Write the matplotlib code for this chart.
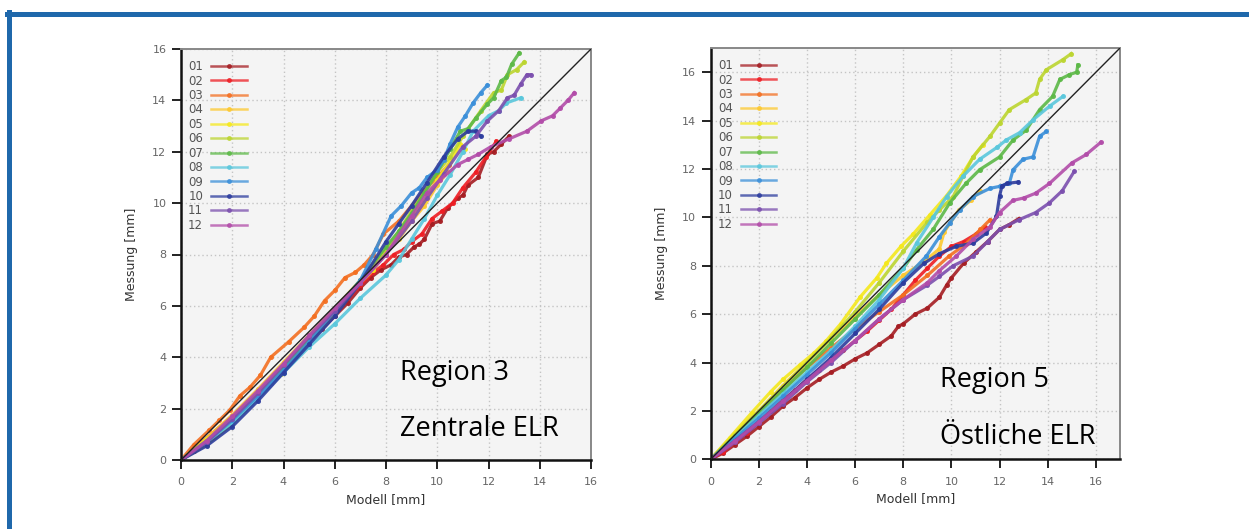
import matplotlib
matplotlib.use("Agg")
import matplotlib.pyplot as plt
from matplotlib.lines import Line2D

labels = ["01", "02", "03", "04", "05", "06", "07", "08", "09", "10", "11", "12"]
colors = ["#a51d22", "#ee1d23", "#f36f21", "#fdc82f", "#f4e81c", "#bcd530",
          "#5cb947", "#5ac7dc", "#3b8fd9", "#2c3c9e", "#7b4fae", "#b24ca9"]

# Region 3 - Zentrale ELR
r3_x = [
    [0, 0.5, 1, 1.5, 2, 2.5, 3, 3.5, 4, 4.5, 5, 5.5, 6, 6.5, 7, 7.4, 7.8, 8.2, 8.5, 8.8,
     9.1, 9.3, 9.5, 9.8, 10.1, 10.4, 10.8, 11.0, 11.2, 11.6, 11.96, 12.2, 12.5, 12.8],
    [0, 1, 2, 3, 4, 5, 6, 7, 7.5, 7.9, 8.3, 8.7, 9.0, 9.4, 9.8, 10.2, 10.6, 11.0, 11.5, 11.9, 12.3],
    [0, 0.5, 1.1, 1.5, 1.9, 2.3, 2.7, 3.1, 3.5, 4.2, 4.8, 5.2, 5.6, 6.0, 6.4, 6.8, 7.15, 7.5, 7.9, 8.5, 9.0, 9.5, 10.0, 10.45],
    [0, 1, 2, 3, 4, 5, 6, 7, 8, 8.5, 9, 9.5, 10, 10.4],
    [0, 1, 2, 3, 4, 5, 6, 7, 7.5, 8, 8.5, 9, 9.5, 10, 10.5, 10.9, 11.1],
    [0, 1, 2, 2.4, 3.0, 3.9, 5, 6, 7, 8, 8.5, 9, 9.5, 10, 10.5, 11, 11.7, 12.2, 12.5, 12.74, 13.1, 13.4],
    [0, 1, 2, 3, 4, 5, 6, 7, 8, 8.5, 9, 9.5, 10, 10.5, 10.9, 11.2, 11.5, 11.96, 12.2, 12.5, 12.7, 12.9, 13.2],
    [0, 1, 2, 3, 4, 5, 6, 7, 8, 8.5, 9, 9.5, 10, 10.5, 11, 11.4, 12.0, 12.4, 12.7, 13.26],
    [0, 1, 2, 3, 4, 5, 6, 7, 7.6, 8.2, 8.6, 9.0, 9.3, 9.6, 10.0, 10.25, 10.5, 10.8, 11.1, 11.4, 11.7, 11.96],
    [0, 1, 2, 3, 4, 5, 6, 7, 8, 8.5, 9, 9.6, 10.25, 10.8, 11.2, 11.5, 11.7],
    [0, 1, 2, 3, 4, 5, 6, 7, 8, 9, 9.6, 10.26, 11.0, 11.5, 11.96, 12.4, 12.74, 13.0, 13.26, 13.5, 13.65],
    [0, 1, 2, 3, 4, 5, 6, 7, 8, 9, 9.6, 10.1, 10.8, 11.2, 11.6, 12.1, 12.8, 13.5, 14.05, 14.5, 14.8, 15.1, 15.35],
]
r3_y = [
    [0, 0.35, 0.8, 1.2, 1.6, 2.0, 2.5, 3.0, 3.5, 4.05, 4.6, 5.1, 5.6, 6.1, 6.7, 7.1, 7.4, 7.6, 7.9, 8.0,
     8.3, 8.4, 8.6, 9.2, 9.3, 9.8, 10.2, 10.3, 10.7, 11.0, 11.9, 12.0, 12.3, 12.6],
    [0, 0.85, 1.7, 2.6, 3.6, 4.7, 5.7, 6.8, 7.3, 7.6, 8.0, 8.2, 8.5, 8.8, 9.4, 9.7, 10.0, 10.6, 11.2, 11.8, 12.4],
    [0, 0.6, 1.16, 1.55, 1.94, 2.5, 2.84, 3.3, 4.0, 4.6, 5.16, 5.6, 6.2, 6.6, 7.1, 7.3, 7.6, 8.0, 8.8, 9.3, 9.9, 10.5, 11.0, 11.5],
    [0, 0.85, 1.75, 2.75, 3.8, 4.85, 5.9, 7.0, 8.1, 8.6, 9.3, 9.9, 10.7, 11.2],
    [0, 0.8, 1.6, 2.6, 3.65, 4.7, 5.8, 6.9, 7.4, 8.1, 8.7, 9.5, 10.1, 10.9, 11.6, 12.3, 12.1],
    [0, 0.6, 1.4, 1.9, 2.5, 3.35, 4.6, 5.7, 6.9, 8.2, 8.9, 9.7, 10.4, 11.2, 11.8, 12.6, 13.6, 14.3, 14.4, 15.0, 15.2, 15.5],
    [0, 0.75, 1.6, 2.6, 3.6, 4.7, 5.8, 7.0, 8.3, 8.9, 9.6, 10.4, 11.2, 12.1, 12.8, 12.9, 13.3, 13.86, 14.1, 14.77, 14.9, 15.4, 15.85],
    [0, 0.7, 1.45, 2.4, 3.4, 4.4, 5.3, 6.3, 7.2, 7.8, 8.6, 9.4, 10.3, 11.1, 12.0, 12.8, 13.4, 13.6, 13.9, 14.1],
    [0, 0.7, 1.55, 2.5, 3.5, 4.6, 5.8, 7.0, 8.2, 9.5, 9.9, 10.4, 10.6, 11.0, 11.3, 11.67, 12.3, 12.96, 13.4, 13.9, 14.3, 14.6],
    [0, 0.55, 1.3, 2.3, 3.4, 4.5, 5.6, 6.9, 8.5, 9.2, 9.9, 10.8, 11.8, 12.5, 12.8, 12.8, 12.6],
    [0, 0.7, 1.6, 2.6, 3.7, 4.8, 5.8, 6.9, 8.0, 9.3, 10.2, 11.15, 12.2, 12.6, 13.2, 13.6, 14.1, 14.2, 14.64, 15.0, 15.0],
    [0, 0.75, 1.7, 2.7, 3.75, 4.85, 5.9, 6.9, 8.0, 9.5, 10.4, 10.9, 11.5, 11.7, 11.9, 12.2, 12.5, 12.8, 13.2, 13.4, 13.7, 14.0, 14.3],
]

# Region 5 - Oestliche ELR
r5_x = [
    [0, 0.5, 1.0, 1.5, 2.0, 2.5, 3.0, 3.5, 4.0, 4.5, 5.0, 5.5, 6.0, 6.5, 7.0, 7.5, 7.8, 8.0, 8.5, 9.0,
     9.5, 9.8, 10.0, 10.5, 11.0, 11.5, 12.0, 12.4, 12.8],
    [0, 0.5, 1, 1.5, 2, 2.5, 3, 3.5, 4, 4.5, 5, 5.5, 6, 6.5, 7, 7.5, 8, 8.5, 9, 9.5, 10, 10.5, 11, 11.4],
    [0, 1, 2, 3, 4, 5, 6, 7, 8, 9, 9.9, 10.6, 11.2, 11.6],
    [0, 1, 2, 3, 4, 5, 6, 7, 8, 8.9, 9.5, 9.7, 10.3, 10.8, 11.2],
    [0, 0.8, 1.7, 2.5, 3.0, 3.7, 4.3, 4.8, 5.4, 6.2, 6.9, 7.3, 7.9, 8.4, 9.1, 9.8, 10.4, 10.9, 11.3],
    [0, 1, 2, 3, 4, 5, 6, 7, 8, 9, 9.5, 10.07, 10.48, 10.9, 11.6, 12.0, 12.4, 13.1, 13.5, 13.66, 13.94, 14.63, 14.98],
    [0, 1, 2, 3, 4, 5, 6, 7, 8, 8.55, 9.24, 9.93, 10.6, 11.17, 12.0, 12.56, 13.1, 13.66, 14.2, 14.5, 14.9, 15.2, 15.25],
    [0, 1, 2, 3, 4, 5, 6, 7, 8, 8.55, 9.24, 9.8, 10.48, 11.17, 11.9, 12.28, 12.83, 13.4, 14.08, 14.63],
    [0, 1, 2, 3, 4, 5, 6, 7, 8, 8.96, 9.5, 9.93, 10.34, 10.9, 11.6, 12.0, 12.4, 12.56, 12.97, 13.39, 13.66, 13.94],
    [0, 1, 2, 3, 4, 5, 6, 7, 8, 8.86, 9.5, 10.2, 10.9, 11.45, 11.87, 12.0, 12.1, 12.3, 12.77],
    [0, 1, 2, 3, 4, 5, 6, 7, 8, 9, 9.5, 10.07, 10.9, 11.5, 12.0, 12.8, 13.5, 14.07, 14.6, 15.1],
    [0, 1, 2, 3, 4, 5, 6, 7, 8, 9, 9.5, 10.2, 10.9, 11.6, 12.0, 12.55, 13.0, 13.5, 14.07, 15.0, 15.6, 16.2],
]
r5_y = [
    [0, 0.25, 0.6, 0.95, 1.35, 1.75, 2.2, 2.55, 2.95, 3.3, 3.6, 3.85, 4.15, 4.4, 4.75, 5.1, 5.5, 5.6, 6.0, 6.25,
     6.7, 7.2, 7.5, 8.1, 8.55, 9.0, 9.5, 9.7, 9.95],
    [0, 0.3, 0.7, 1.1, 1.55, 2.0, 2.45, 2.85, 3.3, 3.7, 4.1, 4.5, 4.9, 5.3, 5.75, 6.2, 6.8, 7.4, 7.9, 8.4, 8.8, 9.0, 9.3, 9.6],
    [0, 1.05, 2.0, 2.9, 3.8, 4.6, 5.4, 6.1, 6.8, 7.6, 8.4, 8.9, 9.5, 9.9],
    [0, 1.05, 2.0, 3.05, 4.0, 5.0, 5.9, 6.8, 7.6, 8.2, 8.7, 9.4, 10.3, 10.7, 11.1],
    [0, 0.9, 1.92, 2.8, 3.3, 3.9, 4.4, 4.9, 5.6, 6.7, 7.5, 8.1, 8.8, 9.3, 10.1, 10.9, 11.7, 12.5, 13.0],
    [0, 1.0, 2.0, 3.0, 4.0, 5.0, 6.1, 7.3, 8.6, 9.8, 10.3, 10.86, 11.7, 12.5, 13.35, 13.9, 14.45, 14.87, 15.14, 15.7, 16.1, 16.52, 16.77],
    [0, 0.95, 1.9, 2.85, 3.8, 4.8, 5.8, 6.8, 7.9, 8.66, 9.5, 10.6, 11.4, 11.97, 12.5, 13.2, 13.6, 14.45, 15.0, 15.7, 15.9, 16.0, 16.3],
    [0, 0.9, 1.8, 2.7, 3.6, 4.5, 5.5, 6.6, 7.9, 8.94, 10.0, 10.86, 11.7, 12.4, 12.9, 13.2, 13.5, 14.04, 14.6, 15.0],
    [0, 0.85, 1.7, 2.6, 3.5, 4.4, 5.4, 6.4, 7.4, 8.4, 9.2, 9.77, 10.3, 10.86, 11.2, 11.28, 11.4, 11.97, 12.4, 12.5, 13.35, 13.55],
    [0, 0.75, 1.55, 2.4, 3.3, 4.2, 5.2, 6.2, 7.3, 8.1, 8.5, 8.8, 8.94, 9.35, 10.04, 10.9, 11.3, 11.4, 11.46],
    [0, 0.7, 1.5, 2.3, 3.2, 4.0, 4.9, 5.8, 6.6, 7.2, 7.56, 8.0, 8.4, 9.0, 9.5, 9.9, 10.2, 10.6, 11.1, 11.9],
    [0, 0.75, 1.55, 2.4, 3.25, 4.1, 4.9, 5.8, 6.6, 7.3, 7.8, 8.4, 9.1, 9.6, 10.2, 10.7, 10.8, 11.0, 11.4, 12.25, 12.6, 13.1],
]

ticks = [0, 2, 4, 6, 8, 10, 12, 14, 16]

fig = plt.figure(figsize=(12.49, 5.29), dpi=100)

# blue frame around the slide box
fig.add_artist(Line2D([7 / 1249, 1], [1 - 14 / 529, 1 - 14 / 529], color="#1f68ab", lw=3.6))
fig.add_artist(Line2D([9 / 1249, 9 / 1249], [0, 1 - 12 / 529], color="#1f68ab", lw=3.6))


def draw_panel(ax, xs, ys, lim, title, subtitle, text_x, text_y):
    ax.set_facecolor("#f4f4f4")
    for xv, yv, lab, c in zip(xs, ys, labels, colors):
        ax.plot(xv, yv, color=c, lw=2.3, marker="o", ms=2.6, alpha=0.9, label=lab)
    ax.plot([0, lim], [0, lim], color="#222222", lw=1.0, zorder=5)
    ax.set_xlim(0, lim)
    ax.set_ylim(0, lim)
    ax.set_xticks(ticks)
    ax.set_yticks(ticks)
    ax.grid(True, color="#c4c4c4", linestyle=(0, (1, 2)), lw=1.0)
    ax.set_axisbelow(True)
    for s in ["left", "bottom"]:
        ax.spines[s].set_color("#111111")
        ax.spines[s].set_linewidth(1.8)
    for s in ["top", "right"]:
        ax.spines[s].set_color("#888888")
        ax.spines[s].set_linewidth(1.4)
    ax.tick_params(direction="out", length=6.5, width=1.4, color="#222222",
                   labelsize=8, labelcolor="#666666")
    ax.tick_params(axis="x", pad=6)
    ax.tick_params(axis="y", pad=4)
    ax.set_xlabel("Modell [mm]", fontsize=9, color="#333333", labelpad=4)
    ax.set_ylabel("Messung [mm]", fontsize=9, color="#333333", labelpad=10)
    leg = ax.legend(loc="upper left", frameon=False, fontsize=8.5, labelcolor="#555555",
                    markerfirst=False, handlelength=3.0, handletextpad=0.7,
                    labelspacing=0.12, numpoints=1, borderaxespad=0.2,
                    bbox_to_anchor=(0.0, 0.99))
    for h in leg.legend_handles:
        h.set_linewidth(1.8)
        h.set_alpha(0.75)
    ax.text(text_x, text_y, title, transform=ax.transAxes, fontsize=19.5,
            family="Open Sans", color="black")
    ax.text(text_x, text_y - 0.137, subtitle, transform=ax.transAxes, fontsize=19.5,
            family="Open Sans", color="black")


ax1 = fig.add_axes([181 / 1249, 69 / 529, 410 / 1249, 411 / 529])
draw_panel(ax1, r3_x, r3_y, 16, "Region 3", "Zentrale ELR", 0.535, 0.195)

ax2 = fig.add_axes([710.7 / 1249, 69.7 / 529, 409.3 / 1249, 411.3 / 529])
draw_panel(ax2, r5_x, r5_y, 17, "Region 5", "\u00d6stliche ELR", 0.56, 0.175)

fig.savefig("out.png", dpi=100)
